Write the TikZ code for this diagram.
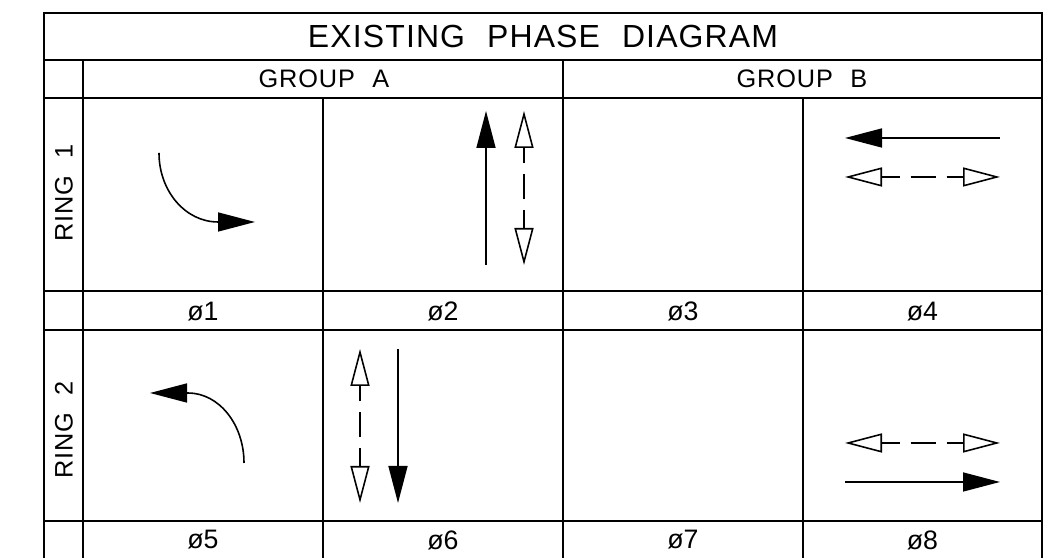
\documentclass[tikz,border=0pt]{standalone}
\usepackage{fontspec}
\setmainfont{Liberation Sans}
\newfontfamily\cadfont[LetterSpace=3.5, WordSpace=2.2]{Liberation Sans}
\usetikzlibrary{arrows.meta}

\begin{document}
\begin{tikzpicture}[
every node/.style={inner sep=0pt},
grid/.style={line width=0.6pt},
lane/.style={line width=0.45pt},
movehead/.style={lane, -{Triangle[length=3.7mm, width=1.9mm]}},
pedhead/.style={lane, {Triangle[open, length=3.7mm, width=1.9mm]}-{Triangle[open, length=3.7mm, width=1.9mm]}, dash pattern=on 1.8mm off 1.1mm on 2.5mm off 1.1mm on 3mm},
headfont/.style={font=\cadfont\fontsize{7.2}{8}\selectfont},
phasefont/.style={font=\fontsize{7.6}{8}\selectfont}
]

\useasboundingbox (0,0) rectangle (10.59,5.58);


\draw[grid] (0.44,-0.1) -- (0.44,5.45) -- (10.42,5.45) -- (10.42,-0.1);
\draw[grid] (0.44,4.98) -- (10.42,4.98);

\foreach \y in {4.60, 2.67, 2.28, 0.37} {
\draw[grid] (0.44,\y) -- (10.42,\y);
}

\draw[grid] (0.83,-0.1) -- (0.83,4.98);
\draw[grid] (5.63,-0.1) -- (5.63,4.98);
\draw[grid] (3.23,-0.1) -- (3.23,4.60);
\draw[grid] (8.03,-0.1) -- (8.03,4.60);


\node[font=\cadfont\fontsize{9.1}{10}\selectfont] (title) at (5.43,5.215) {EXISTING PHASE DIAGRAM};

\node[headfont] (grpA) at (3.24,4.79) {GROUP A};
\node[headfont] (grpB) at (8.02,4.79) {GROUP B};

\node[headfont, rotate=90] (ring1) at (0.64,3.65) {RING 1};
\node[headfont, rotate=90] (ring2) at (0.64,1.28) {RING 2};


\foreach \n/\x in {1/2.03, 2/4.43, 3/6.83, 4/9.225} {
\node[phasefont] (ph\n) at (\x,2.465) {ø\n};
}

\foreach \n/\x in {5/2.03, 6/4.43, 7/6.83, 8/9.225} {
\node[phasefont] (ph\n) at (\x,0.18) {ø\n};
}


\draw[movehead] (1.59,4.05) arc[start angle=180, end angle=270, x radius=0.59, y radius=0.69] -- ++(0.37,0);

\draw[movehead] (4.86,2.93) -- (4.86,4.47);
\draw[pedhead] (5.24,2.93) -- (5.24,4.47);

\draw[movehead] (10.00,4.20) -- (8.45,4.20);
\draw[pedhead] (8.45,3.81) -- (10.00,3.81);


\draw[movehead] (2.44,0.95) arc[start angle=0, end angle=90, x radius=0.56, y radius=0.70] -- ++(-0.38,0);

\draw[pedhead] (3.60,0.55) -- (3.60,2.09);
\draw[movehead] (3.98,2.09) -- (3.98,0.55);

\draw[pedhead] (8.45,1.15) -- (10.00,1.15);
\draw[movehead] (8.45,0.76) -- (10.00,0.76);

\end{tikzpicture}
\end{document}
